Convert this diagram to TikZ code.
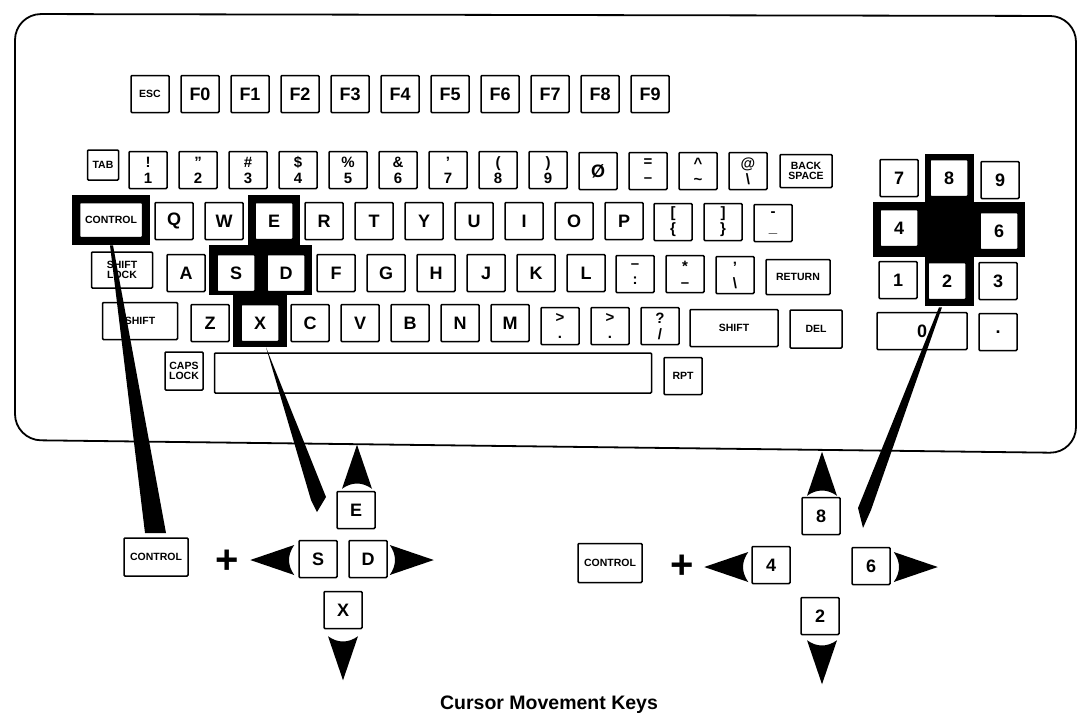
\documentclass[tikz,border=0pt]{standalone}
\usepackage{fontspec}
\setmainfont{Liberation Sans}
\usetikzlibrary{calc}

\newcommand{\bigkeyfont}{\fontsize{18}{18}\selectfont\bfseries}
\newcommand{\twokeyfont}{\fontsize{15}{16}\selectfont\bfseries}
\newcommand{\tinykeyfont}{\fontsize{10.5}{10}\selectfont\bfseries}
% filled arrow head, tip at #1, turned by #2
\newcommand{\arrowtip}[2]{%
  \fill[shift={#1}, rotate=#2] (0pt,0pt) -- (-44pt,15pt)
    .. controls (-37pt,5pt) and (-37pt,-5pt) .. (-44pt,-15pt) -- cycle;}

\tikzset{
  key/.style={draw, line width=1.5pt, fill=white, rounded corners=1pt,
    minimum width=38pt, minimum height=37pt, inner sep=0pt, font=\bigkeyfont},
  twokey/.style={key, align=center, font=\twokeyfont},
  namekey/.style={key, align=center, font=\tinykeyfont},
  plussign/.style={font=\fontsize{40}{40}\selectfont\bfseries, inner sep=0pt},
}

\begin{document}
\begin{tikzpicture}[x=1pt, y=-1pt]
\useasboundingbox (0,0) rectangle (1078,726);

% keyboard case
\draw[line width=1.8pt, rounded corners=26pt] (15,14) -- (1076,16) -- (1076,453) -- (15,440) -- cycle;

% function keys
\node[namekey] (esc) at (150,94) {ESC};
\foreach \i in {0,...,9}
  \node[key] (f\i) at (200+50*\i,94) {F\i};

% number row
\node[namekey, minimum width=31pt, minimum height=30pt] (tab) at (103,165) {TAB};
\foreach \lab [count=\i from 1] in {{!\\1},{"\\2},{\#\\3},{\$\\4},{\%\\5},{\&\\6},{'\\7},{(\\8},{)\\9}}
  \node[twokey] (n\i) at (98+50*\i,170) {\lab};
\node[key] (n0) at (598,171) {Ø};
\node[twokey] (equal) at (648,171) {=\\–};
\node[twokey] (caret) at (698,171) {\textasciicircum\\\textasciitilde};
\node[twokey] (atsign) at (748,171) {@\\\textbackslash};
\node[namekey, minimum width=52pt, minimum height=33pt] (bksp) at (806,171) {BACK\\SPACE};

% black frames round the cursor keys
\fill (72,195) rectangle (150,245);
\fill (248,195) rectangle (300,252);
\fill (209,245) rectangle (312,295);
\fill (233,290) rectangle (287,347);
\fill (925,154) rectangle (974,306);
\fill (873,202) rectangle (1025,257);

% top letter row
\node[namekey, minimum width=63pt, minimum height=35pt] (ctrl) at (111,220) {CONTROL};
\foreach \lab [count=\i from 0] in {Q,W,E,R,T,Y,U,I,O,P}
  \node[key] (k\lab) at (174+50*\i,221) {\lab};
\node[twokey] (lbrack) at (673,222) {[\\\{};
\node[twokey] (rbrack) at (723,222) {]\\\}};
\node[twokey] (minus) at (773,223) {-\\\_};

% home row
\node[namekey, minimum width=61pt, minimum height=36pt] (shlock) at (122,270) {SHIFT\\LOCK};
\foreach \lab [count=\i from 0] in {A,S,D,F,G,H,J,K,L}
  \node[key] (k\lab) at (186+50*\i,273) {\lab};
\node[twokey] (colon) at (635,274) {–\\:};
\node[twokey] (star) at (685,274) {*\\–};
\node[twokey] (quote) at (735,275) {'\\\textbackslash};
\node[namekey, minimum width=64pt, minimum height=35pt] (return) at (798,277) {RETURN};

% bottom letter row
\node[namekey, minimum width=75pt] (lshift) at (140,321) {SHIFT};
\foreach \lab [count=\i from 0] in {Z,X,C,V,B,N,M}
  \node[key] (k\lab) at (210+50*\i,323) {\lab};
\node[twokey] (greater) at (560,326) {>\\.};
\node[twokey] (greaterb) at (610,326) {>\\.};
\node[twokey] (slash) at (660,326) {?\\/};
\node[namekey, minimum width=88pt] (rshift) at (734,328) {SHIFT};
\node[namekey, minimum width=52pt, minimum height=38pt] (del) at (816,329) {DEL};

% space row
\node[namekey, minimum height=38pt] (caps) at (184,371) {CAPS\\LOCK};
\node[key, minimum width=437pt, minimum height=40pt] (space) at (433,373) {};
\node[namekey] (rpt) at (683,376) {RPT};

% keypad
\node[key] (p7) at (899,178) {7};
\node[key] (p8) at (949,178) {8};
\node[key] (p9) at (1000,180) {9};
\node[key] (p4) at (899,228) {4};
\node[key] (p6) at (999,231) {6};
\node[key] (p1) at (898,280) {1};
\node[key] (p2) at (947,281) {2};
\node[key] (p3) at (998,281) {3};
\node[key, minimum width=90pt] (p0) at (922,331) {0};
\node[key] (pdot) at (998,332) {.};

% left combination
\node[namekey, minimum width=64pt, minimum height=38pt] (ctrlA) at (156,557) {CONTROL};
\node[plussign] (plusA) at (227,562) {+};
\node[key] (sA) at (318,559) {S};
\node[key] (dA) at (368,559) {D};
\node[key] (eA) at (356,510) {E};
\node[key] (xA) at (343,610) {X};
\arrowtip{($(sA.west)+(-48,1)$)}{180}
\arrowtip{($(dA.east)+(46,1)$)}{0}
\arrowtip{($(eA.north)+(1,-46)$)}{90}
\arrowtip{($(xA.south)+(0,51)$)}{-90}

% right combination
\node[namekey, minimum width=64pt, minimum height=39pt] (ctrlB) at (610,563) {CONTROL};
\node[plussign] (plusB) at (682,567) {+};
\node[key] (p4B) at (771,565) {4};
\node[key] (p6B) at (871,566) {6};
\node[key] (p8B) at (821,516) {8};
\node[key] (p2B) at (820,616) {2};
\arrowtip{($(p4B.west)+(-47,2)$)}{180}
\arrowtip{($(p6B.east)+(47,1)$)}{0}
\arrowtip{($(p8B.north)+(1,-45)$)}{90}
\arrowtip{($(p2B.south)+(2,49)$)}{-90}

% pointers
\fill ($(ctrl.south)+(-1,7)$) -- (145,533) -- (166,533) -- ($(ctrl.south)+(2,7)$) -- cycle;
\fill ($(kX.south)+(6,5)$) -- (311,500) -- (317,512) -- (326,497) -- cycle;
\fill ($(p2.south)+(-8,7)$) -- (858,508) -- (863,528) -- (871,510) -- ($(p2.south)+(-5,7)$) -- cycle;

% caption
\node[font=\fontsize{19.5}{20}\selectfont\bfseries] (caption) at (549,705) {Cursor Movement Keys};
\end{tikzpicture}
\end{document}
